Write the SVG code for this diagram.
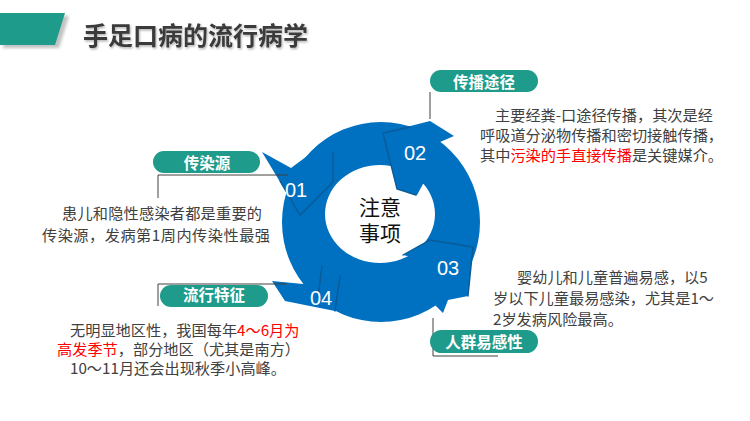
<svg xmlns="http://www.w3.org/2000/svg" width="750" height="421" viewBox="0 0 750 421">
<style>
.body{font-family:"Noto Sans CJK SC","Noto Sans",sans-serif;font-size:15.2px;fill:#404040}
.red{fill:#ff0000}
.pill{fill:#1f9b8b}
.ptxt{font-family:"Noto Sans CJK SC","Noto Sans",sans-serif;font-size:15.5px;font-weight:bold;fill:#ffffff;text-anchor:middle}
.num{font-family:"Liberation Sans",Arial,sans-serif;font-size:20px;fill:#ffffff;text-anchor:middle}
.blue{fill:#0070c0}
.seam{fill:none;stroke:#0a5a96;stroke-width:1.4;stroke-linecap:round}
.lead{fill:none;stroke:#404040;stroke-width:1}
.ctr{font-family:"Noto Sans CJK SC","Noto Sans",sans-serif;font-size:21px;fill:#111;text-anchor:middle}
</style>
<defs>
<filter id="blur" x="-20%" y="-20%" width="140%" height="140%"><feGaussianBlur stdDeviation="0.7"/></filter>
<filter id="tsh" x="-10%" y="-10%" width="130%" height="140%"><feDropShadow dx="1" dy="1.5" stdDeviation="0.8" flood-color="#000" flood-opacity="0.3"/></filter>
<filter id="bsh" x="-20%" y="-20%" width="140%" height="160%"><feGaussianBlur stdDeviation="1.5"/></filter>
</defs>
<rect width="750" height="421" fill="#ffffff"/>

<g id="title">
<polygon points="3,16 69,16 59,48 3,48" fill="#9a9a9a" opacity="0.6" filter="url(#bsh)"/>
<polygon points="0,13 65,13 55,45 0,45" fill="#1f9b8b"/>
<text x="83" y="44.5" font-family="'Noto Sans CJK SC','Noto Sans',sans-serif" font-size="25" font-weight="bold" fill="#3a3a3a" filter="url(#tsh)">手足口病的流行病学</text>
</g>

<g id="ring">
<path class="blue" fill-rule="evenodd" d="M282,222 a99,100 0 1,0 198,0 a99,100 0 1,0 -198,0 Z M325,214 a55,49 0 1,0 110,0 a55,49 0 1,0 -110,0 Z"/>
<text class="ctr" x="380" y="214.5">注意</text>
<text class="ctr" x="380" y="241">事项</text>
</g>

<g id="block01">
<polygon class="blue" points="262,152 291,168 322,145 333,150 333,182 300,215"/>
<polyline class="seam" filter="url(#blur)" points="280,181 300,215 333,182 333,152"/>
<text class="num" x="296" y="197">01</text>
</g>

<g id="block02">
<polygon class="blue" points="383,133 430,121 454,136 440,142 452,160 423,184 417,195 397,189"/>
<polyline class="seam" filter="url(#blur)" points="410,127 383,133 397,189 416,195"/>
<text class="num" x="415" y="160">02</text>
</g>

<g id="block03">
<polygon class="blue" points="403,255 430,240 473,247 468,296 448,300 443,313 434,304 425,260"/>
<polyline class="seam" filter="url(#blur)" points="403,255 430,240 473,247 468,296"/>
<text class="num" x="448" y="275">03</text>
</g>

<g id="block04">
<polygon class="blue" points="272,281 303,284 322,266 340,276 335,311 285,301"/>
<line class="seam" filter="url(#blur)" x1="322" y1="266" x2="318" y2="297"/>
<line class="seam" filter="url(#blur)" x1="340" y1="276" x2="335" y2="311"/>
<text class="num" x="321" y="305">04</text>
</g>

<g id="connectors">
<polyline class="lead" points="158,198 158,175 288,175"/>
<polyline class="lead" points="430,92 430,119"/>
<polyline class="lead" points="158,306 158,284 287,284"/>
<polyline class="lead" points="433,318 433,356 498,356"/>
</g>

<g id="label-source">
<rect class="pill" x="153" y="151" width="107" height="22" rx="11"/>
<text class="ptxt" x="207" y="169">传染源</text>
<text class="body" x="62" y="219" textLength="200">患儿和隐性感染者都是重要的</text>
<text class="body" x="42" y="241" textLength="228">传染源，发病第1周内传染性最强</text>
</g>

<g id="label-route">
<rect class="pill" x="430" y="70" width="108" height="22" rx="11"/>
<text class="ptxt" x="484" y="87.5">传播途径</text>
<text class="body" x="495" y="121">主要经粪-口途径传播，其次是经</text>
<text class="body" x="480" y="141">呼吸道分泌物传播和密切接触传播，</text>
<text class="body" x="480" y="161">其中<tspan class="red">污染的手直接传播</tspan>是关键媒介。</text>
</g>

<g id="label-susceptible">
<rect class="pill" x="430" y="330" width="108" height="23" rx="11.5"/>
<text class="ptxt" x="484" y="347.5">人群易感性</text>
<text class="body" x="517" y="283">婴幼儿和儿童普遍易感，以5</text>
<text class="body" x="493" y="304">岁以下儿童最易感染，尤其是1～</text>
<text class="body" x="493" y="324.5">2岁发病风险最高。</text>
</g>

<g id="label-epidemic">
<rect class="pill" x="160" y="285" width="108" height="22" rx="11"/>
<text class="ptxt" x="214" y="301">流行特征</text>
<text class="body" x="70" y="335.5">无明显地区性，我国每年<tspan class="red">4～6月为</tspan></text>
<text class="body" x="57" y="354.5"><tspan class="red">高发季节</tspan>，部分地区（尤其是南方）</text>
<text class="body" x="70" y="373.5">10～11月还会出现秋季小高峰。</text>
</g>
</svg>
